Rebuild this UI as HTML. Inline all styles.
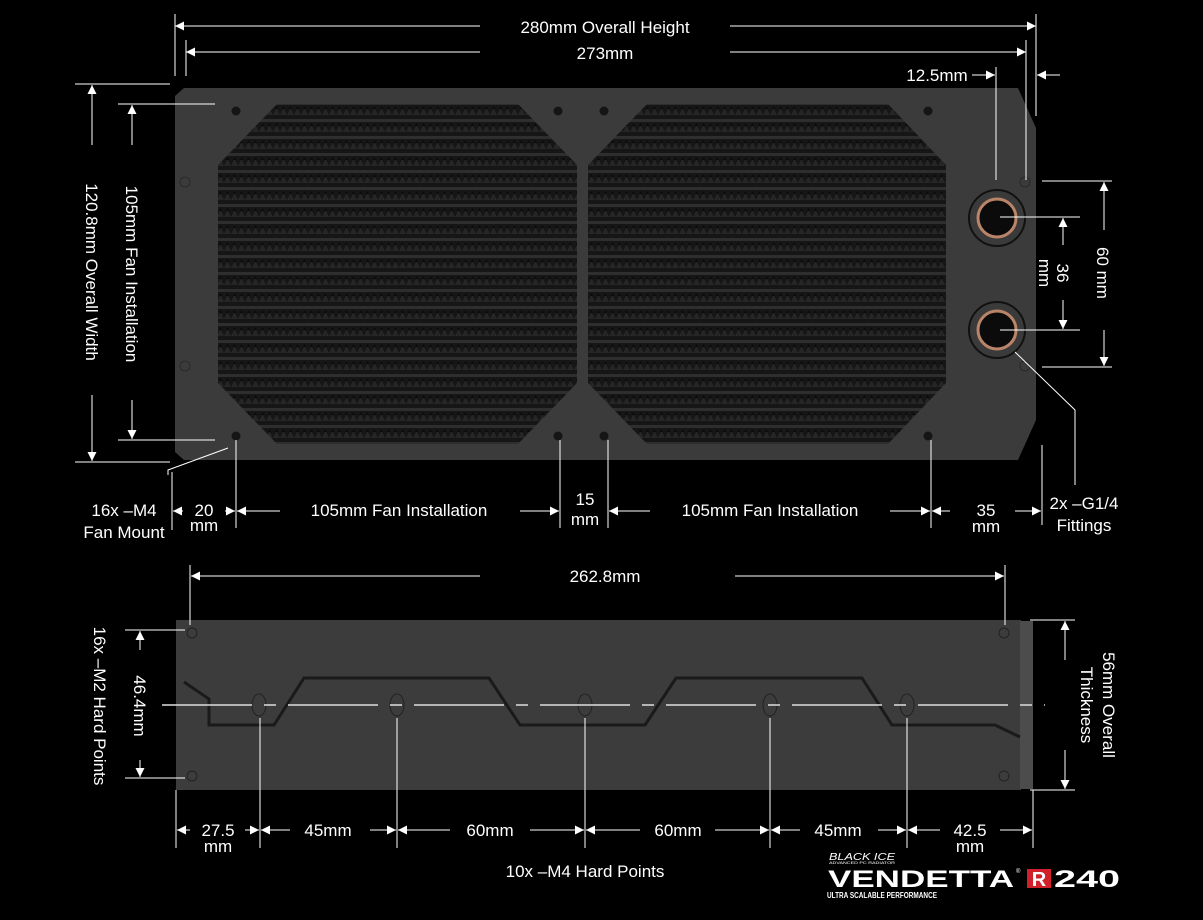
<!DOCTYPE html>
<html><head><meta charset="utf-8"><style>
html,body{margin:0;padding:0;background:#000;}
svg{display:block;}
text{font-family:"Liberation Sans",sans-serif;font-size:17px;fill:#fff;}
</style></head><body>
<svg width="1203" height="920" viewBox="0 0 1203 920" xmlns="http://www.w3.org/2000/svg">
<defs>
<marker id="a" viewBox="0 0 10 10" refX="10" refY="5" markerWidth="12" markerHeight="9" markerUnits="userSpaceOnUse" orient="auto"><path d="M0,0L10,5L0,10z" fill="#fff"/></marker>
<pattern id="g" width="7" height="17" patternUnits="userSpaceOnUse">
<rect width="7" height="17" fill="#161616"/>
<rect y="0" width="7" height="3" fill="#2e2e2e"/>
<path d="M0,13L3.5,6L7,13z" fill="#262626"/>
<path d="M3.5,4L5,7L2,7z" fill="#0a0a0a"/>
</pattern>
</defs>

<polygon points="175,96 184,88 1018,88 1036,128 1036,420 1018,460 184,460 175,452" fill="#3b3b3b"/>
<polygon points="277,104 518,104 577,165 577,383 518,444 277,444 218,383 218,165" fill="url(#g)"/>
<polygon points="647,104 888,104 946,165 946,383 888,444 647,444 588,383 588,165" fill="url(#g)"/>
<g fill="#151515">
<circle cx="236" cy="111" r="4.5"/><circle cx="558" cy="111" r="4.5"/><circle cx="604" cy="111" r="4.5"/><circle cx="928" cy="111" r="4.5"/>
<circle cx="236" cy="436" r="4.5"/><circle cx="558" cy="436" r="4.5"/><circle cx="604" cy="436" r="4.5"/><circle cx="928" cy="436" r="4.5"/>
</g>
<g fill="none" stroke="#2a2a2a" stroke-width="1">
<circle cx="185" cy="182" r="5"/><circle cx="185" cy="366" r="5"/><circle cx="1025" cy="182" r="5"/><circle cx="1025" cy="366" r="5"/>
</g>
<g>
<circle cx="997" cy="218" r="28" fill="#3a3a3a" stroke="#111" stroke-width="2"/>
<circle cx="997" cy="218" r="19" fill="#0b0b0b" stroke="#b98467" stroke-width="3"/>
<circle cx="997" cy="330" r="28" fill="#3a3a3a" stroke="#111" stroke-width="2"/>
<circle cx="997" cy="330" r="19" fill="#0b0b0b" stroke="#b98467" stroke-width="3"/>
</g>

<rect x="176" y="620" width="845" height="170" fill="#3c3c3c"/>
<rect x="1020" y="621" width="13" height="168" fill="#4c4c4c"/>
<polyline points="184,682 209,699 209,725 274,725 304,678 489,678 520,725 645,725 676,678 862,678 892,725 995,725 1020,737" fill="none" stroke="#1a1a1a" stroke-width="3"/>
<g fill="none" stroke="#222" stroke-width="1">
<ellipse cx="259" cy="705" rx="7" ry="11"/><ellipse cx="397" cy="705" rx="7" ry="11"/><ellipse cx="585" cy="705" rx="7" ry="11"/><ellipse cx="770" cy="705" rx="7" ry="11"/><ellipse cx="907" cy="705" rx="7" ry="11"/>
<circle cx="192" cy="633" r="5"/><circle cx="192" cy="776" r="5"/><circle cx="1004" cy="633" r="5"/><circle cx="1004" cy="776" r="5"/>
</g>
<line x1="162" y1="705" x2="1045" y2="705" stroke="#ddd" stroke-width="1.5" stroke-dasharray="90,12,12,12"/>

<g stroke="#fff" stroke-width="1" fill="none">
<line x1="175" y1="14" x2="175" y2="76"/><line x1="1036" y1="14" x2="1036" y2="116"/>
<line x1="480" y1="26" x2="175" y2="26" marker-end="url(#a)"/><line x1="730" y1="26" x2="1036" y2="26" marker-end="url(#a)"/>
<line x1="186" y1="40" x2="186" y2="76"/><line x1="1026" y1="40" x2="1026" y2="180"/>
<line x1="480" y1="52" x2="186" y2="52" marker-end="url(#a)"/><line x1="730" y1="52" x2="1026" y2="52" marker-end="url(#a)"/>
<line x1="996" y1="67" x2="996" y2="180"/>
<line x1="972" y1="75" x2="995" y2="75" marker-end="url(#a)"/><line x1="1060" y1="75" x2="1037" y2="75" marker-end="url(#a)"/>
<line x1="75" y1="84" x2="170" y2="84"/><line x1="75" y1="462" x2="170" y2="462"/>
<line x1="92" y1="145" x2="92" y2="85" marker-end="url(#a)"/><line x1="92" y1="395" x2="92" y2="461" marker-end="url(#a)"/>
<line x1="118" y1="104" x2="215" y2="104"/><line x1="118" y1="440" x2="215" y2="440"/>
<line x1="132" y1="145" x2="132" y2="105" marker-end="url(#a)"/><line x1="132" y1="400" x2="132" y2="439" marker-end="url(#a)"/>
<line x1="1042" y1="181" x2="1112" y2="181"/><line x1="1042" y1="367" x2="1112" y2="367"/>
<line x1="1104" y1="230" x2="1104" y2="182" marker-end="url(#a)"/><line x1="1104" y1="330" x2="1104" y2="366" marker-end="url(#a)"/>
<line x1="1000" y1="217" x2="1080" y2="217"/><line x1="1000" y1="330" x2="1080" y2="330"/>
<line x1="1063" y1="245" x2="1063" y2="218" marker-end="url(#a)"/><line x1="1063" y1="300" x2="1063" y2="329" marker-end="url(#a)"/>
<polyline points="1015,352 1075,410 1075,485"/>
<line x1="1042" y1="445" x2="1042" y2="525"/>
<polyline points="228,448 168,470 168,475"/>
<line x1="172" y1="472" x2="172" y2="530"/>
<line x1="236" y1="440" x2="236" y2="528"/><line x1="560" y1="440" x2="560" y2="528"/><line x1="608" y1="440" x2="608" y2="528"/><line x1="931" y1="440" x2="931" y2="528"/>
<line x1="183" y1="511" x2="173" y2="511" marker-end="url(#a)"/><line x1="225" y1="511" x2="235" y2="511" marker-end="url(#a)"/>
<line x1="280" y1="511" x2="237" y2="511" marker-end="url(#a)"/><line x1="520" y1="511" x2="559" y2="511" marker-end="url(#a)"/>
<line x1="650" y1="511" x2="609" y2="511" marker-end="url(#a)"/><line x1="890" y1="511" x2="930" y2="511" marker-end="url(#a)"/>
<line x1="950" y1="511" x2="932" y2="511" marker-end="url(#a)"/><line x1="1015" y1="511" x2="1041" y2="511" marker-end="url(#a)"/>
<line x1="190" y1="565" x2="190" y2="625"/><line x1="1005" y1="565" x2="1005" y2="625"/>
<line x1="480" y1="576" x2="191" y2="576" marker-end="url(#a)"/><line x1="735" y1="576" x2="1004" y2="576" marker-end="url(#a)"/>
<line x1="125" y1="630" x2="185" y2="630"/><line x1="125" y1="778" x2="185" y2="778"/>
<line x1="140" y1="650" x2="140" y2="631" marker-end="url(#a)"/><line x1="140" y1="760" x2="140" y2="777" marker-end="url(#a)"/>
<line x1="1030" y1="620" x2="1075" y2="620"/><line x1="1030" y1="790" x2="1075" y2="790"/>
<line x1="1065" y1="660" x2="1065" y2="621" marker-end="url(#a)"/><line x1="1065" y1="750" x2="1065" y2="789" marker-end="url(#a)"/>
<line x1="176" y1="790" x2="176" y2="848"/><line x1="1033" y1="790" x2="1033" y2="848"/>
<line x1="260" y1="718" x2="260" y2="848"/><line x1="397" y1="718" x2="397" y2="848"/><line x1="585" y1="718" x2="585" y2="848"/><line x1="770" y1="718" x2="770" y2="848"/><line x1="907" y1="718" x2="907" y2="848"/>
<line x1="190" y1="830" x2="177" y2="830" marker-end="url(#a)"/><line x1="245" y1="830" x2="259" y2="830" marker-end="url(#a)"/>
<line x1="290" y1="830" x2="261" y2="830" marker-end="url(#a)"/><line x1="370" y1="830" x2="396" y2="830" marker-end="url(#a)"/>
<line x1="450" y1="830" x2="398" y2="830" marker-end="url(#a)"/><line x1="530" y1="830" x2="584" y2="830" marker-end="url(#a)"/>
<line x1="640" y1="830" x2="586" y2="830" marker-end="url(#a)"/><line x1="715" y1="830" x2="769" y2="830" marker-end="url(#a)"/>
<line x1="800" y1="830" x2="771" y2="830" marker-end="url(#a)"/><line x1="878" y1="830" x2="906" y2="830" marker-end="url(#a)"/>
<line x1="940" y1="830" x2="908" y2="830" marker-end="url(#a)"/><line x1="1000" y1="830" x2="1032" y2="830" marker-end="url(#a)"/>
</g>

<g text-anchor="middle">
<text x="605" y="33">280mm Overall Height</text>
<text x="605" y="59">273mm</text>
<text x="937" y="81">12.5mm</text>
<text transform="translate(86,272) rotate(90)">120.8mm Overall Width</text>
<text transform="translate(126,274) rotate(90)">105mm Fan Installation</text>
<text transform="translate(1097,273) rotate(90)">60 mm</text>
<text transform="translate(1057,273) rotate(90)">36</text>
<text transform="translate(1039,273) rotate(90)">mm</text>
<text x="124" y="516">16x –M4</text>
<text x="124" y="538">Fan Mount</text>
<text x="204" y="516">20</text><text x="204" y="531">mm</text>
<text x="399" y="516">105mm Fan Installation</text>
<text x="585" y="505">15</text><text x="585" y="525">mm</text>
<text x="770" y="516">105mm Fan Installation</text>
<text x="986" y="516">35</text><text x="986" y="532">mm</text>
<text x="1084" y="509">2x –G1/4</text><text x="1084" y="531">Fittings</text>
<text x="605" y="582">262.8mm</text>
<text transform="translate(94,706) rotate(90)">16x –M2 Hard Points</text>
<text transform="translate(134,706) rotate(90)">46.4mm</text>
<text transform="translate(1103,705) rotate(90)">56mm Overall</text>
<text transform="translate(1081,705) rotate(90)">Thickness</text>
<text x="218" y="836">27.5</text><text x="218" y="852">mm</text>
<text x="328" y="836">45mm</text>
<text x="490" y="836">60mm</text>
<text x="678" y="836">60mm</text>
<text x="838" y="836">45mm</text>
<text x="970" y="836">42.5</text><text x="970" y="852">mm</text>
<text x="585" y="877">10x –M4 Hard Points</text>
</g>
<text x="829" y="860" textLength="66" lengthAdjust="spacingAndGlyphs" style="font-size:10px;font-style:italic">BLACK ICE</text>
<text x="829" y="864" textLength="66" lengthAdjust="spacingAndGlyphs" style="font-size:4px">ADVANCED PC RADIATOR</text>
<text x="828" y="887" textLength="186" lengthAdjust="spacingAndGlyphs" style="font-size:24px;font-weight:bold">VENDETTA</text>
<text x="1016" y="873" style="font-size:6px">®</text>
<rect x="1027" y="869" width="24" height="19" fill="#d0202a"/>
<text x="1039" y="886" text-anchor="middle" style="font-size:20px;font-weight:bold">R</text>
<text x="1054" y="887" textLength="66" lengthAdjust="spacingAndGlyphs" style="font-size:24px;font-weight:bold">240</text>
<text x="827" y="898" textLength="110" lengthAdjust="spacingAndGlyphs" style="font-size:8px;font-weight:bold">ULTRA SCALABLE PERFORMANCE</text>
</svg>
</body></html>
